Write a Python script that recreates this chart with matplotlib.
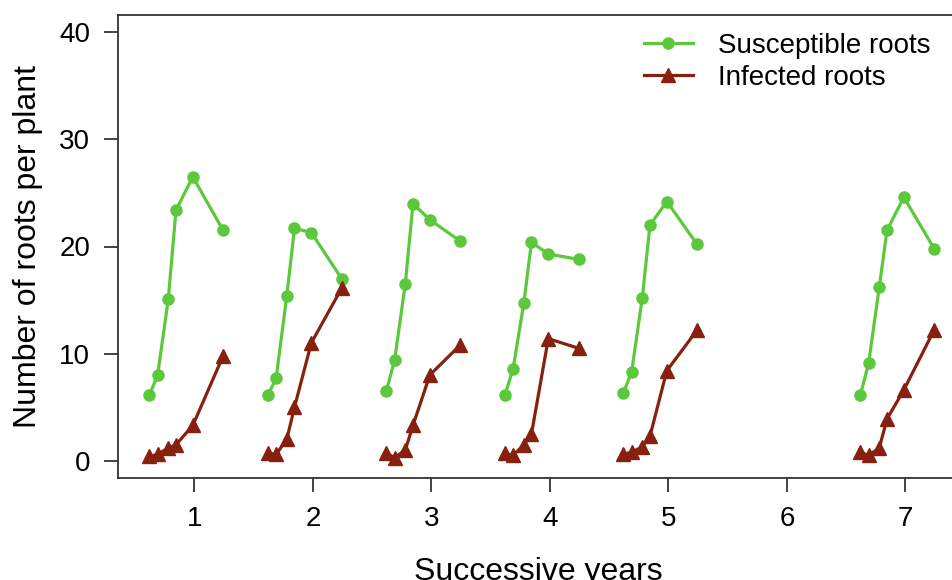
import numpy as np
import matplotlib
matplotlib.use("Agg")
import matplotlib.pyplot as plt

plt.rcParams["font.family"] = ["Liberation Sans", "DejaVu Sans"]

GREEN = "#5cc83b"
DARKRED = "#87200f"

# sampling dates within each season, as offsets from the year mark
offsets = [-0.38, -0.31, -0.22, -0.155, -0.013, 0.243]
years = [1, 2, 3, 4, 5, 7]

susceptible = [
    [6.1, 8.0, 15.1, 23.4, 26.5, 21.5],
    [6.1, 7.7, 15.4, 21.7, 21.3, 17.0],
    [6.5, 9.4, 16.5, 24.0, 22.5, 20.5],
    [6.1, 8.6, 14.7, 20.4, 19.3, 18.8],
    [6.3, 8.3, 15.2, 22.0, 24.2, 20.2],
    [6.1, 9.1, 16.2, 21.5, 24.6, 19.8],
]
infected = [
    [0.4, 0.6, 1.2, 1.5, 3.3, 9.8],
    [0.7, 0.6, 2.0, 5.0, 11.0, 16.1],
    [0.7, 0.3, 1.0, 3.3, 8.0, 10.8],
    [0.7, 0.5, 1.5, 2.5, 11.4, 10.5],
    [0.6, 0.8, 1.3, 2.3, 8.4, 12.2],
    [0.8, 0.5, 1.2, 3.9, 6.6, 12.2],
]

fig = plt.figure(figsize=(9.52, 5.8), dpi=100)
ax = fig.add_axes([0.124, 0.176, 0.883, 0.798])

for i, yr in enumerate(years):
    x = [yr + o for o in offsets]
    ax.plot(x, susceptible[i], color=GREEN, lw=2.3, marker="o", ms=8,
            label="Susceptible roots" if i == 0 else None)
    ax.plot(x, infected[i], color=DARKRED, lw=2.3, marker="^", ms=9.5,
            label="Infected roots" if i == 0 else None)

ax.set_xlim(0.356, 7.45)
ax.set_ylim(-1.6, 41.6)
ax.set_xticks(range(1, 8))
ax.set_yticks(range(0, 41, 10))
ax.tick_params(labelsize=20, length=10, width=1.2, colors="#222222",
               labelcolor="black")
ax.tick_params(axis="x", pad=10)
ax.tick_params(axis="y", pad=10)
for sp in ax.spines.values():
    sp.set_linewidth(1.3)
    sp.set_color("#333333")

ax.set_xlabel("Successive years", fontsize=23, labelpad=18)
ax.set_ylabel("Number of roots per plant", fontsize=23, labelpad=12)

leg = ax.legend(loc="upper left", bbox_to_anchor=(0.596, 1.016), frameon=False,
                fontsize=20, handlelength=1.75, labelspacing=0.22,
                handletextpad=0.9)

fig.savefig("out.png", dpi=100)
